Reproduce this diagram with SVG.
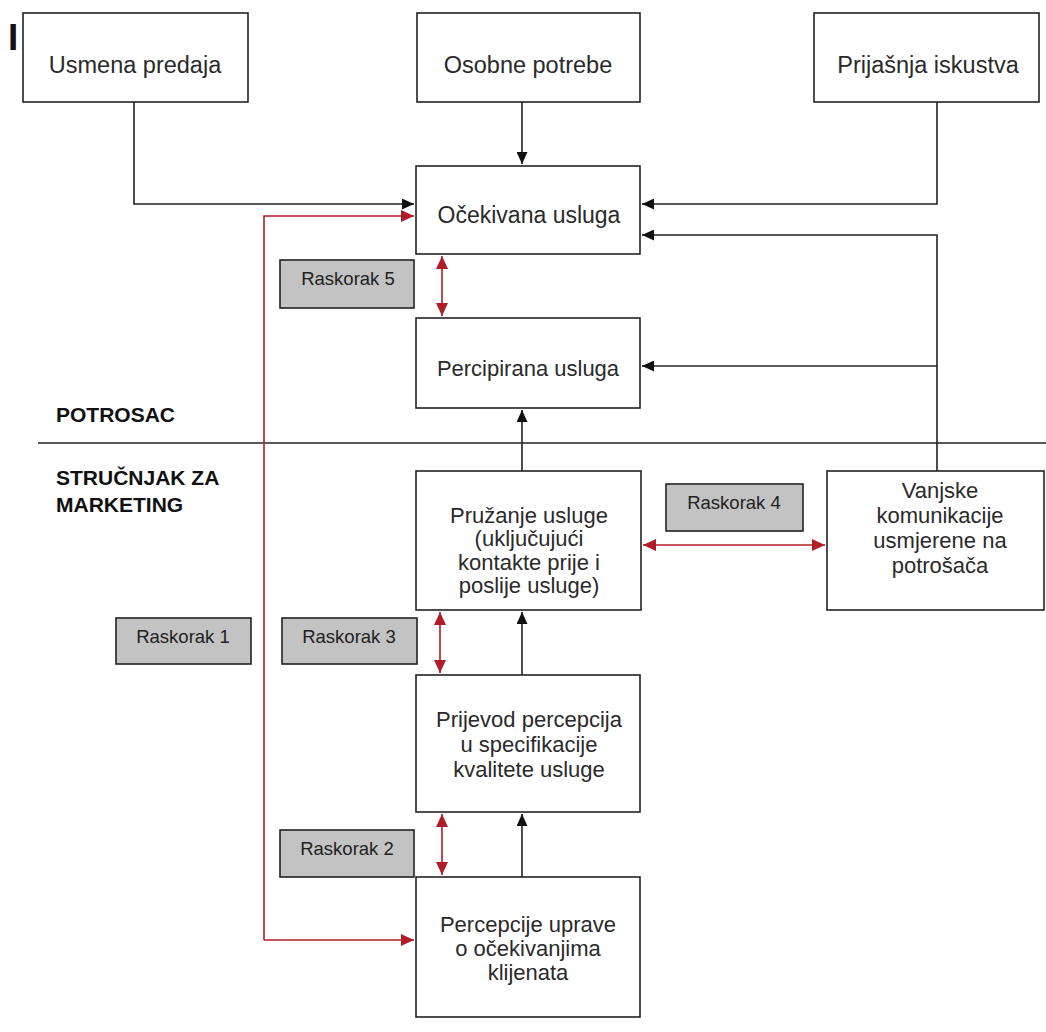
<svg xmlns="http://www.w3.org/2000/svg" width="1046" height="1032" viewBox="0 0 1046 1032">
<style>
.box{fill:#fff;stroke:#222;stroke-width:1.6}
.gap{fill:#c3c3c3;stroke:#222;stroke-width:1.6}
.t{font-family:"Liberation Sans",Arial,sans-serif;font-size:22px;fill:#2a2a2a;text-anchor:middle}
.tb{font-size:23.5px}
.g{font-family:"Liberation Sans",Arial,sans-serif;font-size:18.5px;fill:#222;text-anchor:middle}
.h{font-family:"Liberation Sans",Arial,sans-serif;font-size:21px;font-weight:bold;fill:#111}
.bl{fill:none;stroke:#222;stroke-width:1.6}
.rl{fill:none;stroke:#b01c28;stroke-width:1.6}
</style>
<defs>
<marker id="ab" markerUnits="userSpaceOnUse" markerWidth="12" markerHeight="11" refX="12" refY="5.5" orient="auto-start-reverse"><path d="M0,0 L12,5.5 L0,11 z" fill="#111"/></marker>
<marker id="ar" markerUnits="userSpaceOnUse" markerWidth="13" markerHeight="12" refX="13" refY="6" orient="auto-start-reverse"><path d="M0,0 L13,6 L0,12 z" fill="#b01c28"/></marker>
</defs>
<rect width="1046" height="1032" fill="#fff"/>
<text x="8" y="50" style="font-family:'Liberation Sans',Arial,sans-serif;font-size:37px;font-weight:bold;fill:#111">I</text>

<g id="connectors">
<path class="bl" d="M134,102 V204 H414" marker-end="url(#ab)"/>
<path class="bl" d="M522,102 V164" marker-end="url(#ab)"/>
<path class="bl" d="M937,102 V204 H642" marker-end="url(#ab)"/>
<path class="bl" d="M937,471 V235 H642" marker-end="url(#ab)"/>
<path class="bl" d="M937,366 H642" marker-end="url(#ab)"/>
<path class="bl" d="M522,471 V410" marker-end="url(#ab)"/>
<path class="bl" d="M522,675 V612" marker-end="url(#ab)"/>
<path class="bl" d="M522,877 V814" marker-end="url(#ab)"/>
<path class="bl" d="M38,443 H1046"/>
<path class="rl" d="M264,940 V216 H414" marker-end="url(#ar)"/>
<path class="rl" d="M264,940 H414" marker-end="url(#ar)"/>
<path class="rl" d="M442,256 V316" marker-start="url(#ar)" marker-end="url(#ar)"/>
<path class="rl" d="M643,545 H825" marker-start="url(#ar)" marker-end="url(#ar)"/>
<path class="rl" d="M440,612 V673" marker-start="url(#ar)" marker-end="url(#ar)"/>
<path class="rl" d="M442,814 V875" marker-start="url(#ar)" marker-end="url(#ar)"/>
</g>

<g id="usmena"><rect class="box" x="23" y="13" width="225" height="89"/><text class="t tb" x="135" y="73">Usmena predaja</text></g>
<g id="osobne"><rect class="box" x="417" y="13" width="223" height="89"/><text class="t tb" x="528" y="73">Osobne potrebe</text></g>
<g id="prijasnja"><rect class="box" x="814" y="13" width="225" height="89"/><text class="t tb" x="928" y="73">Prijašnja iskustva</text></g>
<g id="ocekivana"><rect class="box" x="416" y="166" width="224" height="88"/><text class="t" x="529" y="223" style="font-size:23px">Očekivana usluga</text></g>
<g id="percipirana"><rect class="box" x="416" y="318" width="224" height="90"/><text class="t" x="528" y="376">Percipirana usluga</text></g>
<g id="pruzanje"><rect class="box" x="416" y="471" width="225" height="139"/>
<text class="t" x="529" y="523">Pružanje usluge</text>
<text class="t" x="529" y="546">(uključujući</text>
<text class="t" x="529" y="570">kontakte prije i</text>
<text class="t" x="529" y="593">poslije usluge)</text></g>
<g id="vanjske"><rect class="box" x="827" y="471" width="217" height="139"/>
<text class="t" x="940" y="498">Vanjske</text>
<text class="t" x="940" y="523">komunikacije</text>
<text class="t" x="940" y="548">usmjerene na</text>
<text class="t" x="940" y="573">potrošača</text></g>
<g id="prijevod"><rect class="box" x="416" y="675" width="224" height="137"/>
<text class="t" x="529" y="727">Prijevod percepcija</text>
<text class="t" x="529" y="752">u specifikacije</text>
<text class="t" x="529" y="777">kvalitete usluge</text></g>
<g id="percepcije"><rect class="box" x="416" y="877" width="224" height="140"/>
<text class="t" x="528" y="932">Percepcije uprave</text>
<text class="t" x="528" y="956">o očekivanjima</text>
<text class="t" x="528" y="980">klijenata</text></g>

<g id="raskorak5"><rect class="gap" x="280" y="260" width="134" height="48"/><text class="g" x="348" y="285">Raskorak 5</text></g>
<g id="raskorak4"><rect class="gap" x="666" y="484" width="137" height="47"/><text class="g" x="734" y="509">Raskorak 4</text></g>
<g id="raskorak1"><rect class="gap" x="116" y="618" width="135" height="46"/><text class="g" x="183" y="643">Raskorak 1</text></g>
<g id="raskorak3"><rect class="gap" x="282" y="618" width="135" height="46"/><text class="g" x="349" y="643">Raskorak 3</text></g>
<g id="raskorak2"><rect class="gap" x="280" y="830" width="134" height="47"/><text class="g" x="347" y="855">Raskorak 2</text></g>

<g id="labels">
<text class="h" x="56" y="422">POTROSAC</text>
<text class="h" x="56" y="485">STRUČNJAK ZA</text>
<text class="h" x="56" y="512">MARKETING</text>
</g>
</svg>
